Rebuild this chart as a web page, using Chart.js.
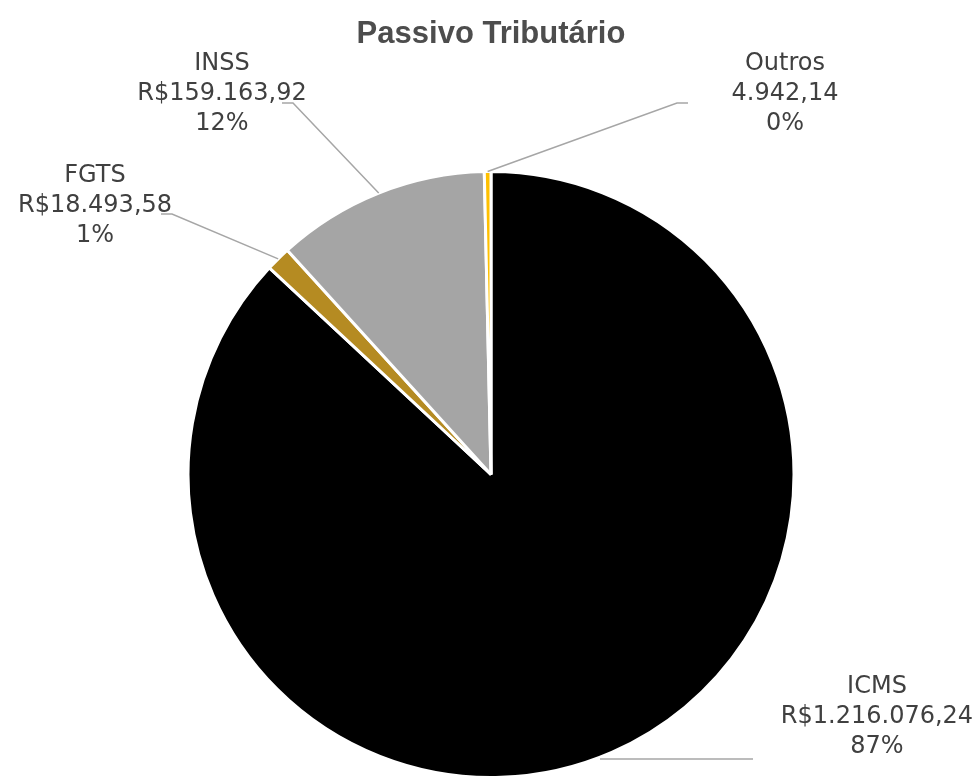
<!DOCTYPE html>
<html>
<head>
<meta charset="utf-8">
<script src="https://cdn.jsdelivr.net/npm/chart.js@4.4.1/dist/chart.umd.min.js"></script>
<style>
  html, body { margin: 0; padding: 0; background: #fff; }
  #wrap { width: 978px; height: 779px; position: relative; }
</style>
</head>
<body>
<div id="wrap"><canvas id="chart"></canvas></div>
<script>
// data
const categories = ['ICMS', 'FGTS', 'INSS', 'Outros'];
const values = [1216076.24, 18493.58, 159163.92, 4942.14];
const valuePrefixes = ['R$', 'R$', 'R$', ''];
const percentLabels = ['87%', '1%', '12%', '0%'];
const sliceColors = ['#000000', '#B58B22', '#A5A5A5', '#FFC000'];

function formatBR(v) {
    const parts = v.toFixed(2).split('.');
    const intPart = parts[0].replace(/\B(?=(\d{3})+(?!\d))/g, '.');
    return intPart + ',' + parts[1];
}

// label placement (text center x, first line y, leader end + elbow)
const labelLayout = [
    { x: 877, y: 687, end: [753, 759], elbow: [600, 759], toArc: false },
    { x: 95, y: 176, end: [161, 214], elbow: [172, 214], toArc: true },
    { x: 222, y: 64, end: [282, 103], elbow: [293, 103], toArc: true },
    { x: 785, y: 64, end: [688, 103], elbow: [677, 103], toArc: true }
];

const pieLabels = {
    id: 'pieLabels',
    afterDatasetsDraw(chart) {
        const ctx = chart.ctx;
        const meta = chart.getDatasetMeta(0);
        ctx.save();

        // title
        ctx.fillStyle = '#4d4d4d';
        ctx.font = 'bold 31px "Liberation Sans", Arial, sans-serif';
        ctx.textAlign = 'center';
        ctx.textBaseline = 'alphabetic';
        ctx.fillText('Passivo Tributário', 491, 43);

        meta.data.forEach((arc, i) => {
            const lay = labelLayout[i];
            const p = arc.getProps(['x', 'y', 'startAngle', 'endAngle', 'outerRadius'], true);
            const mid = (p.startAngle + p.endAngle) / 2;
            const ax = p.x + Math.cos(mid) * p.outerRadius;
            const ay = p.y + Math.sin(mid) * p.outerRadius;

            ctx.strokeStyle = '#A6A6A6';
            ctx.lineWidth = 1.5;
            ctx.beginPath();
            ctx.moveTo(lay.end[0], lay.end[1]);
            ctx.lineTo(lay.elbow[0], lay.elbow[1]);
            if (lay.toArc) ctx.lineTo(ax, ay);
            ctx.stroke();

            ctx.fillStyle = '#404040';
            ctx.font = '24px "DejaVu Sans", sans-serif';
            ctx.textAlign = 'center';
            ctx.textBaseline = 'middle';
            const lines = [categories[i], valuePrefixes[i] + formatBR(values[i]), percentLabels[i]];
            lines.forEach((t, k) => ctx.fillText(t, lay.x, lay.y + k * 30));
        });
        ctx.restore();
    }
};

new Chart(document.getElementById('chart'), {
    type: 'pie',
    data: {
        labels: categories,
        datasets: [{
            data: values,
            backgroundColor: sliceColors,
            borderColor: '#ffffff',
            borderWidth: 3,
            hoverOffset: 0
        }]
    },
    options: {
        responsive: true,
        maintainAspectRatio: false,
        animation: false,
        layout: { padding: { top: 170, bottom: 0, left: 4, right: 0 } },
        plugins: {
            legend: { display: false },
            title: { display: false },
            tooltip: { enabled: false }
        }
    },
    plugins: [pieLabels]
});
</script>
</body>
</html>
